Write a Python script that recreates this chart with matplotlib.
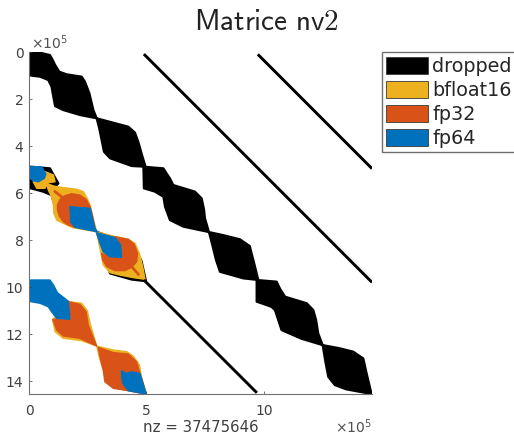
import matplotlib
matplotlib.use("Agg")
import matplotlib.pyplot as plt
from matplotlib.patches import Patch

labels = ['dropped', 'bfloat16', 'fp32', 'fp64']
BLACK = '#000000'
YELLOW = '#EDB120'
ORANGE = '#D95319'
BLUE = '#0072BD'
colors = [BLACK, YELLOW, ORANGE, BLUE]
nz = 37475646

# outlines, unit is 1e5 (x = column, y = row)
drop1_x = [0, .47, .89, 1.01, 1.11, 1.29, 1.6, 2.24, 2.38, 2.57, 2.74, 2.88, 3.59, 4.23, 4.51, 4.65, 4.79, 4.96, 4.37, 3.45, 3.19, 3.09, 2.99, 2.88, 2.17, 1.46, 1.11, 1.01, .96, .82, .47, .07, 0]
drop1_y = [0, .03, .13, .34, .55, .84, .95, 1.05, 1.26, 1.76, 2.47, 2.82, 3.01, 3.18, 3.43, 3.82, 4.31, 4.88, 4.85, 4.52, 4.24, 3.74, 3.25, 2.82, 2.68, 2.47, 2.3, 1.76, 1.48, 1.19, 1.05, 1.0, .5]
drop2_x = [4.87, 5.72, 5.88, 6.0, 6.14, 7.06, 7.35, 7.45, 7.49, 7.66, 8.3, 8.98, 9.4, 9.47, 9.55, 9.76, 9.12, 8.13, 7.96, 7.8, 7.66, 6.57, 6.0, 5.79, 5.72, 5.36, 4.89]
drop2_y = [4.88, 4.95, 5.2, 5.38, 5.66, 5.94, 6.23, 6.7, 7.08, 7.66, 7.8, 7.97, 8.26, 8.55, 8.85, 9.7, 9.63, 9.35, 8.85, 8.2, 7.66, 7.43, 7.15, 6.58, 6.16, 5.94, 5.8]
drop3_x = [9.69, 10.54, 10.7, 10.9, 11.82, 12.1, 12.22, 12.31, 12.5, 13.2, 13.8, 14.23, 14.3, 14.37, 14.58, 13.5, 13.02, 12.74, 12.62, 12.5, 11.6, 10.75, 10.47, 10.32, 9.69]
drop3_y = [9.7, 9.77, 10.1, 10.41, 10.69, 10.98, 11.4, 11.97, 12.47, 12.6, 12.75, 13.04, 13.35, 13.67, 14.55, 14.35, 14.17, 13.82, 13.2, 12.47, 12.2, 11.83, 10.98, 10.84, 10.62]

diag_x = [[4.89, 14.6], [9.74, 14.6], [4.89, 9.7]]
diag_y = [[.09, 9.8], [.1, 4.96], [9.7, 14.5]]

# block rows 5-10, columns 0-5
rim_x = [.07, .89, 1.25, 1.04, 1.11, 1.2, .96, .6, .07]
rim_y = [4.88, 4.95, 5.59, 5.8, 6.5, 6.9, 6.09, 5.94, 5.8]
rim2_x = [2.88, 4.44, 4.79, 4.98, 4.37, 3.45, 3.16]
rim2_y = [7.65, 8.2, 8.9, 9.75, 9.68, 9.42, 8.5]
y_mid1_x = [.68, 1.04, 1.11, .82, .68, .33, .18]
y_mid1_y = [5.09, 5.23, 5.52, 5.56, 5.8, 5.8, 5.52]
y_mid2_x = [.75, 1.04, 1.39, 2.03, 2.31, 2.48, 2.62, 2.77, 2.88, 2.31, 1.89, 1.46, 1.18, 1.06, 1.04, .96, .82]
y_mid2_y = [5.59, 5.7, 5.76, 5.84, 5.94, 6.23, 6.58, 7.22, 7.65, 7.55, 7.48, 7.29, 7.15, 6.87, 6.51, 6.16, 5.87]
y_mid3_x = [2.88, 3.59, 4.23, 4.51, 4.7, 4.84, 4.94, 4.44, 3.87, 3.45, 3.16, 3.09, 2.99]
y_mid3_y = [7.65, 7.83, 7.97, 8.14, 8.57, 9.13, 9.67, 9.6, 9.49, 9.39, 9.06, 8.71, 8.21]
o_mid2_x = [1.21, 1.32, 1.53, 1.82, 2.17, 2.43, 2.6, 2.71, 2.81, 1.96, 1.67, 1.46, 1.29, 1.21]
o_mid2_y = [6.51, 6.27, 6.11, 6.03, 6.09, 6.27, 6.58, 7.01, 7.5, 7.46, 7.36, 7.22, 6.98, 6.72]
o_mid3_x = [3.66, 4.23, 4.48, 4.62, 4.58, 4.37, 4.09, 3.66, 3.31, 3.14, 3.09, 3.45, 3.94, 3.94]
o_mid3_y = [7.86, 7.97, 8.18, 8.57, 8.92, 9.16, 9.3, 9.3, 9.13, 8.85, 8.57, 8.71, 8.74, 8.28]
streak1_x = [1.11, 1.39]
streak1_y = [5.94, 6.16]
streak2_x = [4.37, 4.65]
streak2_y = [9.13, 9.45]
b_mid1_x = [.07, .54, .72, .65, .4, .18, .07]
b_mid1_y = [4.88, 4.88, 5.19, 5.38, 5.52, 5.48, 5.38]
b_mid2_x = [1.74, 2.6, 2.81, 2.91, 1.96, 1.77, 1.77]
b_mid2_y = [6.58, 6.65, 7.5, 7.65, 7.46, 7.22, 7.01]
b_mid3_x = [2.88, 3.66, 3.9, 3.94, 3.45, 3.16, 3.02]
b_mid3_y = [7.69, 7.89, 8.21, 8.74, 8.71, 8.5, 8.14]

# block rows 10-14.5, columns 0-5
b_low1_x = [.07, .89, 1.04, 1.21, 1.67, 1.74, 1.18, .96, .82, .47, .07]
b_low1_y = [9.7, 9.7, 9.91, 10.24, 10.6, 11.37, 11.33, 11.05, 10.84, 10.69, 10.62]
y_low2_x = [1.67, 2.24, 2.48, 2.62, 2.88, 2.24, 1.46, 1.11, 1.01]
y_low2_y = [10.62, 10.69, 11.0, 11.62, 12.51, 12.28, 12.18, 11.9, 11.4]
o_low2_x = [1.67, 2.17, 2.43, 2.52, 2.88, 2.17, 1.46, 1.18, 1.01, 1.74]
o_low2_y = [10.62, 10.74, 11.05, 11.62, 12.51, 12.18, 12.08, 11.83, 11.37, 11.37]
y_low3_x = [2.88, 3.59, 4.16, 4.44, 4.7, 4.79, 4.99, 4.23, 3.59, 3.28, 3.16, 2.99]
y_low3_y = [12.51, 12.68, 12.75, 12.94, 13.32, 13.82, 14.55, 14.41, 14.27, 13.96, 13.53, 12.97]
o_low3_x = [2.95, 3.59, 4.23, 4.58, 4.72, 4.99, 4.23, 3.59, 3.23, 3.16, 3.02]
o_low3_y = [12.57, 12.79, 12.85, 13.18, 13.67, 14.55, 14.41, 14.31, 14.03, 13.53, 12.97]
b_low3_x = [3.94, 4.13, 4.37, 4.72, 4.99, 4.23, 3.99, 3.94]
b_low3_y = [13.56, 13.67, 13.61, 13.67, 14.55, 14.41, 14.1, 13.75]

x_ticks = [0, 5, 10]
y_ticks = [0, 2, 4, 6, 8, 10, 12, 14]

fig = plt.figure(figsize=(5.14, 4.36), dpi=100)
ax = fig.add_axes([29 / 514, 1 - 394 / 436, 343 / 514, 342 / 436])

for px, py in [(drop1_x, drop1_y), (drop2_x, drop2_y), (drop3_x, drop3_y), (rim_x, rim_y), (rim2_x, rim2_y)]:
    ax.fill(px, py, color=BLACK, lw=1.6, joinstyle='round')
for lx, ly in zip(diag_x, diag_y):
    ax.plot(lx, ly, color=BLACK, lw=2.1, solid_capstyle='butt')

for px, py in [(y_mid1_x, y_mid1_y), (y_mid2_x, y_mid2_y), (y_mid3_x, y_mid3_y), (y_low2_x, y_low2_y), (y_low3_x, y_low3_y)]:
    ax.fill(px, py, color=YELLOW, lw=1.0, joinstyle='round')
for px, py in [(o_mid2_x, o_mid2_y), (o_mid3_x, o_mid3_y), (o_low2_x, o_low2_y), (o_low3_x, o_low3_y)]:
    ax.fill(px, py, color=ORANGE, lw=1.0, joinstyle='round')
for lx, ly in [(streak1_x, streak1_y), (streak2_x, streak2_y)]:
    ax.plot(lx, ly, color=ORANGE, lw=2)
for px, py in [(b_mid1_x, b_mid1_y), (b_mid2_x, b_mid2_y), (b_mid3_x, b_mid3_y), (b_low1_x, b_low1_y), (b_low3_x, b_low3_y)]:
    ax.fill(px, py, color=BLUE, lw=1.0, joinstyle='round')

ax.set_xlim(0, 14.6)
ax.set_ylim(14.55, 0)
ax.set_xticks(x_ticks)
ax.set_yticks(y_ticks)
ax.tick_params(direction='in', length=2.5, width=0.5, color='#404040', labelcolor='#404040', labelsize=10)
ax.tick_params(axis='x', pad=7)
ax.tick_params(axis='y', pad=4)
ax.spines['top'].set_visible(False)
ax.spines['right'].set_visible(False)
ax.spines['left'].set_color('#707070')
ax.spines['bottom'].set_color('#707070')

fig.text(266 / 514, 1 - 22 / 436, r'$\mathsf{Matrice\ nv2}$', fontsize=21, ha='center', va='center',
         color='#222222', math_fontfamily='cm')
fig.text(200.5 / 514, 1 - 427 / 436, f'nz = {nz}', fontsize=10.8, ha='center', va='center', color='#404040')
fig.text(31 / 514, 1 - 43 / 436, r'$\times 10^{5}$', fontsize=10, ha='left', va='center', color='#505050')
fig.text(335 / 514, 1 - 427 / 436, r'$\times 10^{5}$', fontsize=10, ha='left', va='center', color='#505050')

handles = [Patch(facecolor=c, edgecolor='#3a3a3a', lw=0.6) for c in colors]
fig.legend(handles, labels, loc='upper left', bbox_to_anchor=(382 / 514, 1 - 52.5 / 436),
           bbox_transform=fig.transFigure, fontsize=13.8, fancybox=False, framealpha=1,
           edgecolor='#707070', borderaxespad=0, borderpad=0.22, labelspacing=0.25,
           handlelength=2.2, handleheight=1.0, handletextpad=0.2, labelcolor='#262626')

fig.savefig('out.png', dpi=100)
